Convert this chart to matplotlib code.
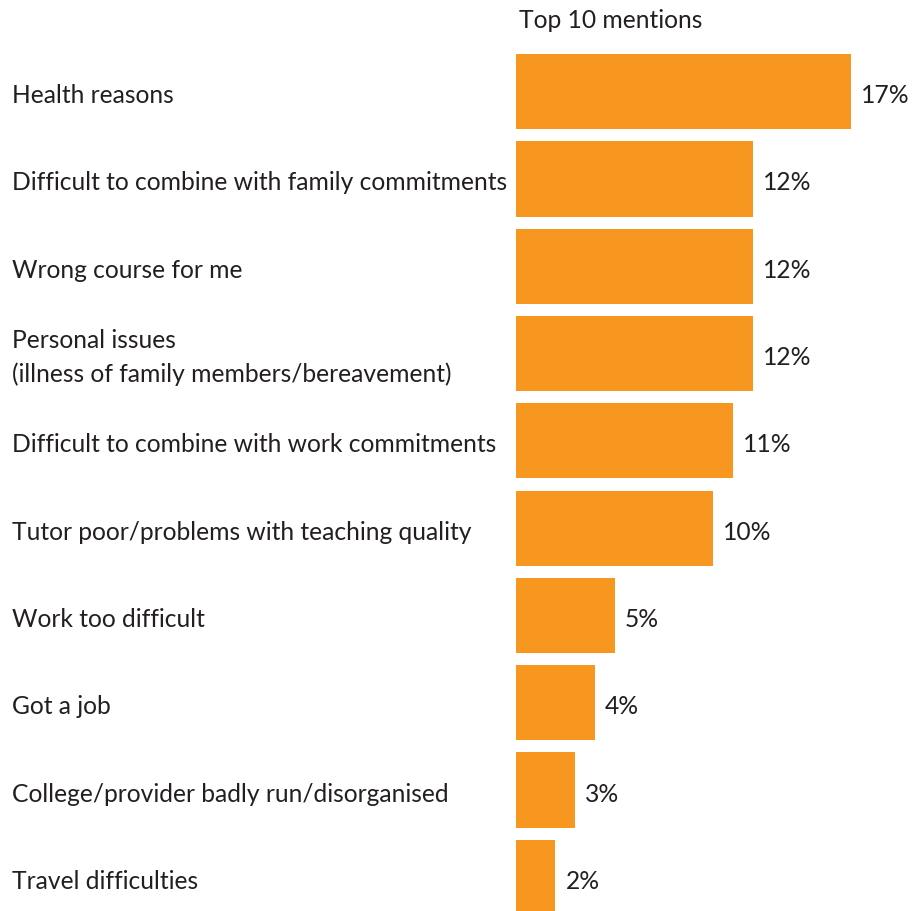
import matplotlib
matplotlib.use("Agg")
import matplotlib.pyplot as plt

categories = [
    "Health reasons",
    "Difficult to combine with family commitments",
    "Wrong course for me",
    "Personal issues\n(illness of family members/bereavement)",
    "Difficult to combine with work commitments",
    "Tutor poor/problems with teaching quality",
    "Work too difficult",
    "Got a job",
    "College/provider badly run/disorganised",
    "Travel difficulties",
]
values = [17, 12, 12, 12, 11, 10, 5, 4, 3, 2]
title = "Top 10 mentions"

BAR_COLOR = "#F7971F"
TEXT_COLOR = "#231F20"
FONT = ["Lato", "DejaVu Sans"]
FS = 17.7

fig = plt.figure(figsize=(9.23, 9.12), dpi=100)
ax = fig.add_axes([516 / 923, 0, 407 / 923, 1])
ypos = list(range(len(values)))
ax.barh(ypos, values, height=0.862, color=BAR_COLOR, linewidth=0)
ax.set_xlim(0, 20.64)
ax.set_ylim(9.385, -1.061)
ax.axis("off")

for y, v in zip(ypos, values):
    ax.annotate(f"{v}%", xy=(v, y), xytext=(10, -3), textcoords="offset pixels",
                va="center", ha="left", fontsize=FS, color=TEXT_COLOR, family=FONT)

for y, lab in zip(ypos, categories):
    ax.annotate(lab, xy=(0, y), xycoords=("figure fraction", "data"),
                xytext=(12, -3), textcoords="offset pixels",
                va="center", ha="left", fontsize=FS, color=TEXT_COLOR,
                family=FONT, linespacing=1.5)

fig.text(519 / 923, 1 - 21 / 912, title, ha="left", va="center",
         fontsize=FS, color=TEXT_COLOR, family=FONT)

fig.savefig("out.png", dpi=100)
